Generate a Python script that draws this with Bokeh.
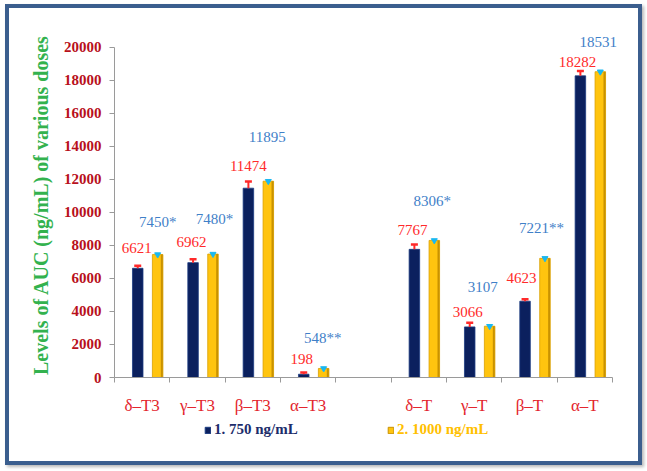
from bokeh.plotting import figure
from bokeh.layouts import column
from bokeh.models import (ColumnDataSource, Range1d, FixedTicker, LabelSet,
                          Legend, LegendItem, NumeralTickFormatter)
from bokeh.embed import file_html
from bokeh.resources import INLINE

# ---- data ----
categories = ["δ–T3", "γ–T3", "β–T3", "α–T3", "δ–T", "γ–T", "β–T", "α–T"]
group = ["T3", "T3", "T3", "T3", "T", "T", "T", "T"]
dose750 = [6621, 6962, 11474, 198, 7767, 3066, 4623, 18282]
dose1000 = [7450, 7480, 11895, 548, 8306, 3107, 7221, 18531]
labels750 = ["6621", "6962", "11474", "198", "7767", "3066", "4623", "18282"]
labels1000 = ["7450*", "7480*", "11895", "548**", "8306*", "3107", "7221**", "18531"]
err750 = [150, 200, 400, 100, 300, 250, 120, 300]
err1000 = [120, 120, 150, 100, 150, 120, 120, 120]
series_names = ["1. 750 ng/mL", "2. 1000 ng/mL"]
y_ticks = list(range(0, 20001, 2000))

# label nudges in screen pixels (dx, dy up from bar top)
dx750 = [-1, -1.5, 0, -2, -2, -2, -3.5, -3]
dy750 = [20, 21, 22, 15, 19, 15, 23, 14]
dx1000 = [0, 1.5, -1, -1, -2, -7, -3.5, -2]
dy1000 = [33, 35, 44, 30, 39, 39, 30, 29.5]

# slot index: a blank slot separates the two groups
slots = [i + (1 if g == "T" else 0) for i, g in enumerate(group)]
n_slots = max(slots) + 1
x750 = [s + 0.42 for s in slots]
x1000 = [s + 0.78 for s in slots]

NAVY = "#0b205e"
GOLD = "#ffc40f"
RED = "#ff2a2a"
BLUE = "#3f80c8"

src = ColumnDataSource(dict(
    x750=x750, x1000=x1000, v750=dose750, v1000=dose1000,
    top750=[v + e for v, e in zip(dose750, err750)],
    top1000=[v + e for v, e in zip(dose1000, err1000)],
    lab750=labels750, lab1000=labels1000,
    dx750=dx750, dy750=dy750, dx1000=dx1000, dy1000=dy1000,
    xshade=[x + 0.075 for x in x1000],
))

LEFT, RIGHT, FW = 109, 22, 506

p = figure(frame_width=FW, frame_height=345, output_backend="svg",
           toolbar_location=None,
           x_range=Range1d(0, n_slots + 0.145), y_range=Range1d(0, 20909),
           min_border_left=LEFT, min_border_right=RIGHT, min_border_top=28,
           min_border_bottom=40, outline_line_color=None,
           background_fill_color=None, border_fill_color=None)
p.grid.visible = False

r1 = p.vbar(x="x750", top="v750", width=0.19, source=src, fill_color=NAVY,
            line_color="#1a3a80", line_width=0.8)
r2 = p.vbar(x="x1000", top="v1000", width=0.19, source=src, fill_color=GOLD,
            line_color="#d9a000", line_width=0.8)
p.vbar(x="xshade", top="v1000", width=0.035, source=src, fill_color="#c99200",
       line_color=None)

# error caps
p.segment(x0="x750", y0="v750", x1="x750", y1="top750", source=src,
          line_color=RED, line_width=2)
p.scatter(x="x750", y="top750", source=src, marker="dash", size=7,
          line_color=RED, line_width=2.5)
p.scatter(x="x1000", y="v1000", source=src, marker="inverted_triangle", size=6,
          fill_color="#1ab8f0", line_color="#1ab8f0")

# value labels
p.add_layout(LabelSet(x="x750", y="v750", text="lab750", source=src,
                      x_offset="dx750", y_offset="dy750",
                      text_align="center", text_baseline="middle",
                      text_font="Liberation Serif", text_font_size="15px",
                      text_color=RED))
p.add_layout(LabelSet(x="x1000", y="v1000", text="lab1000", source=src,
                      x_offset="dx1000", y_offset="dy1000",
                      text_align="center", text_baseline="middle",
                      text_font="Liberation Serif", text_font_size="15px",
                      text_color=BLUE))

# x axis
xa = p.xaxis[0]
centers = [s + 0.5 for s in slots]
xa.ticker = FixedTicker(ticks=centers, minor_ticks=list(range(n_slots + 1)))
xa.bounds = (0, n_slots)
xa.major_label_overrides = {c: lab for c, lab in zip(centers, categories)}
xa.major_tick_line_color = None
xa.minor_tick_in = 0
xa.minor_tick_out = 5
xa.minor_tick_line_color = "#9a9a9a"
xa.axis_line_color = "#9a9a9a"
xa.major_label_text_font = "Liberation Serif"
xa.major_label_text_font_size = "17px"
xa.major_label_text_color = "#e3262e"
xa.major_label_standoff = 12

# y axis
ya = p.yaxis[0]
ya.ticker = FixedTicker(ticks=y_ticks)
ya.bounds = (0, 20000)
ya.formatter = NumeralTickFormatter(format="0")
ya.major_tick_in = 0
ya.major_tick_out = 5
ya.minor_tick_line_color = None
ya.major_tick_line_color = "#9a9a9a"
ya.axis_line_color = "#9a9a9a"
ya.major_label_text_font = "Liberation Serif"
ya.major_label_text_font_style = "bold"
ya.major_label_text_font_size = "15px"
ya.major_label_text_color = "#b8101c"
ya.major_label_standoff = 8
ya.axis_label = "Levels of AUC (ng/mL) of various doses"
ya.axis_label_text_font = "Liberation Serif"
ya.axis_label_text_font_style = "bold"
ya.axis_label_text_font_size = "20px"
ya.axis_label_text_color = "#33b24e"
ya.axis_label_standoff = 9

# legend strip below the chart (swatch renderers are hidden, only keyed)
lf = figure(frame_width=FW, height=48, output_backend="svg",
            toolbar_location=None, x_axis_type=None, y_axis_type=None,
            x_range=Range1d(0, 1), y_range=Range1d(0, 1),
            min_border_left=LEFT, min_border_right=RIGHT,
            min_border_top=0, min_border_bottom=0, outline_line_color=None,
            background_fill_color=None, border_fill_color=None)
lf.grid.visible = False
k1 = lf.vbar(x="x750", top="v750", width=0.19, source=src,
             fill_color=NAVY, line_color="#1a3a80", visible=False)
k2 = lf.vbar(x="x1000", top="v1000", width=0.19, source=src,
             fill_color=GOLD, line_color="#c99200", visible=False)
for r, name, col, loc in [(k1, series_names[0], "#1c2d6b", (90, 27)),
                          (k2, series_names[1], "#ffc000", (273, 27))]:
    lg = Legend(items=[LegendItem(label=name, renderers=[r])], location=loc,
                orientation="horizontal", padding=0, margin=0,
                border_line_color=None, background_fill_alpha=0,
                inactive_fill_alpha=0,
                glyph_width=7, glyph_height=8, label_standoff=3,
                label_text_font="Liberation Serif", label_text_font_style="bold",
                label_text_font_size="15px", label_text_color=col)
    lf.add_layout(lg, "center")

page = column(p, lf, spacing=0)
page.margin = (4, 0, 0, 5)
page.styles = {"box-shadow": "inset 0 0 0 4px #3b5e8e, 2px 2px 3px #b8b8b8"}

open("out.html", "w").write(file_html(page, INLINE))
